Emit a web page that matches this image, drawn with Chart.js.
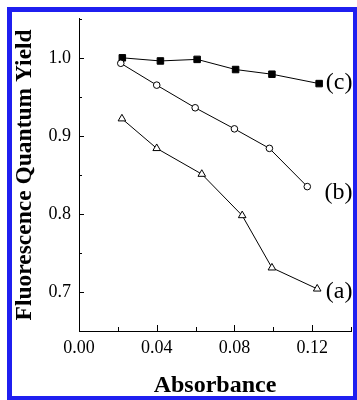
<!DOCTYPE html>
<html>
<head>
<meta charset="utf-8">
<script src="https://cdn.jsdelivr.net/npm/chart.js@4/dist/chart.umd.min.js"></script>
<style>
  body { margin: 0; background: #fff; }
  #wrap { position: relative; width: 357px; height: 400px; overflow: hidden; }
  #frame { position: absolute; left: 7px; top: 7px; width: 351px; height: 394px; box-sizing: border-box; border: 5px solid #1f1ff0; pointer-events: none; }
  canvas { position: absolute; left: 0; top: 0; }
</style>
</head>
<body>
<div id="wrap">
  <canvas id="qyChart" width="357" height="400"></canvas>
  <div id="frame"></div>
</div>
<script>
// absorbance (x) and fluorescence quantum yield (y) for each sample
const absA = [0.0221, 0.0400, 0.0632, 0.0840, 0.0993, 0.1226];
const yieldA = [0.922, 0.884, 0.851, 0.798, 0.731, 0.704];
const absB = [0.0215, 0.0400, 0.0598, 0.0800, 0.0980, 0.1175];
const yieldB = [0.993, 0.965, 0.936, 0.909, 0.884, 0.835];
const absC = [0.0223, 0.0419, 0.0608, 0.0806, 0.0993, 0.1236];
const yieldC = [1.000, 0.996, 0.998, 0.985, 0.979, 0.967];
const curveLabels = ["(a)", "(b)", "(c)"];

const serif = "'Liberation Serif', 'Times New Roman', serif";

function toPoints(xs, ys) {
    return xs.map((x, i) => ({ x: x, y: ys[i] }));
}

// inward tick marks, long for labelled values, short otherwise
const innerTicks = {
    id: "innerTicks",
    afterDraw(chart) {
        const ctx = chart.ctx;
        const xs = chart.scales.x, ys = chart.scales.y;
        ctx.save();
        ctx.strokeStyle = "#000";
        ctx.lineWidth = 1;
        ctx.beginPath();
        xs.ticks.forEach(t => {
            const px = Math.round(xs.getPixelForValue(t.value)) + 0.5;
            const big = Math.round(t.value * 100) % 4 === 0;
            ctx.moveTo(px, ys.bottom);
            ctx.lineTo(px, ys.bottom - (big ? 6 : 4));
        });
        ys.ticks.forEach(t => {
            const py = Math.round(ys.getPixelForValue(t.value)) + 0.5;
            const big = Math.round(t.value * 100) % 10 === 0;
            ctx.moveTo(xs.left, py);
            ctx.lineTo(xs.left + (big ? 5 : 3), py);
        });
        ctx.stroke();
        ctx.restore();
    }
};

// curve names, right-aligned at the plot edge beside each last point
const curveNames = {
    id: "curveNames",
    afterDatasetsDraw(chart) {
        const ctx = chart.ctx;
        const shift = [3, 6, -1];
        ctx.save();
        ctx.font = "24px " + serif;
        ctx.fillStyle = "#000";
        ctx.textAlign = "right";
        ctx.textBaseline = "middle";
        chart.data.datasets.forEach((ds, i) => {
            const meta = chart.getDatasetMeta(i);
            const last = meta.data[meta.data.length - 1];
            ctx.fillText(curveLabels[i], chart.chartArea.right + 1.5, last.y + shift[i]);
        });
        ctx.restore();
    }
};

new Chart(document.getElementById("qyChart"), {
    type: "scatter",
    data: {
        datasets: [{
            label: curveLabels[0],
            data: toPoints(absA, yieldA),
            showLine: true,
            borderColor: "#000",
            borderWidth: 1,
            pointStyle: "triangle",
            pointRadius: 4.4,
            pointBorderWidth: 1,
            pointBorderColor: "#000",
            pointBackgroundColor: "#fff"
        }, {
            label: curveLabels[1],
            data: toPoints(absB, yieldB),
            showLine: true,
            borderColor: "#000",
            borderWidth: 1,
            pointStyle: "circle",
            pointRadius: 3.3,
            pointBorderWidth: 1,
            pointBorderColor: "#000",
            pointBackgroundColor: "#fff"
        }, {
            label: curveLabels[2],
            data: toPoints(absC, yieldC),
            showLine: true,
            borderColor: "#000",
            borderWidth: 1,
            pointStyle: "rect",
            pointRadius: 4.6,
            pointBorderWidth: 1,
            pointBorderColor: "#000",
            pointBackgroundColor: "#000"
        }]
    },
    options: {
        responsive: false,
        animation: false,
        layout: { padding: { left: 0, top: 17, right: 5, bottom: 0 } },
        plugins: {
            legend: { display: false },
            tooltip: { enabled: false }
        },
        scales: {
            x: {
                type: "linear",
                min: 0,
                max: 0.14,
                afterFit: s => { s.height = 69; },
                border: { display: true, color: "#000", width: 1 },
                grid: { display: true, drawOnChartArea: false, drawTicks: false },
                ticks: {
                    stepSize: 0.02,
                    padding: 6,
                    color: "#000",
                    font: { family: serif, size: 18 },
                    maxRotation: 0,
                    autoSkip: false,
                    callback: v => Math.round(v * 100) % 4 === 0 ? v.toFixed(2) : ""
                },
                title: {
                    display: true,
                    text: "Absorbance",
                    color: "#000",
                    font: { family: serif, size: 24, weight: "bold", lineHeight: 1 },
                    padding: { top: 0, bottom: 2 }
                }
            },
            y: {
                type: "linear",
                min: 0.65,
                max: 1.05,
                afterFit: s => { s.width = 79; },
                border: { display: true, color: "#000", width: 1 },
                grid: { display: true, drawOnChartArea: false, drawTicks: false },
                ticks: {
                    stepSize: 0.05,
                    padding: 8,
                    color: "#000",
                    font: { family: serif, size: 18 },
                    autoSkip: false,
                    callback: v => Math.round(v * 100) % 10 === 0 ? v.toFixed(1) : ""
                },
                title: {
                    display: true,
                    text: "Fluorescence Quantum Yield",
                    color: "#000",
                    font: { family: serif, size: 23.5, weight: "bold", lineHeight: 1 },
                    padding: { top: 13, bottom: 0 }
                }
            }
        }
    },
    plugins: [innerTicks, curveNames]
});
</script>
</body>
</html>
